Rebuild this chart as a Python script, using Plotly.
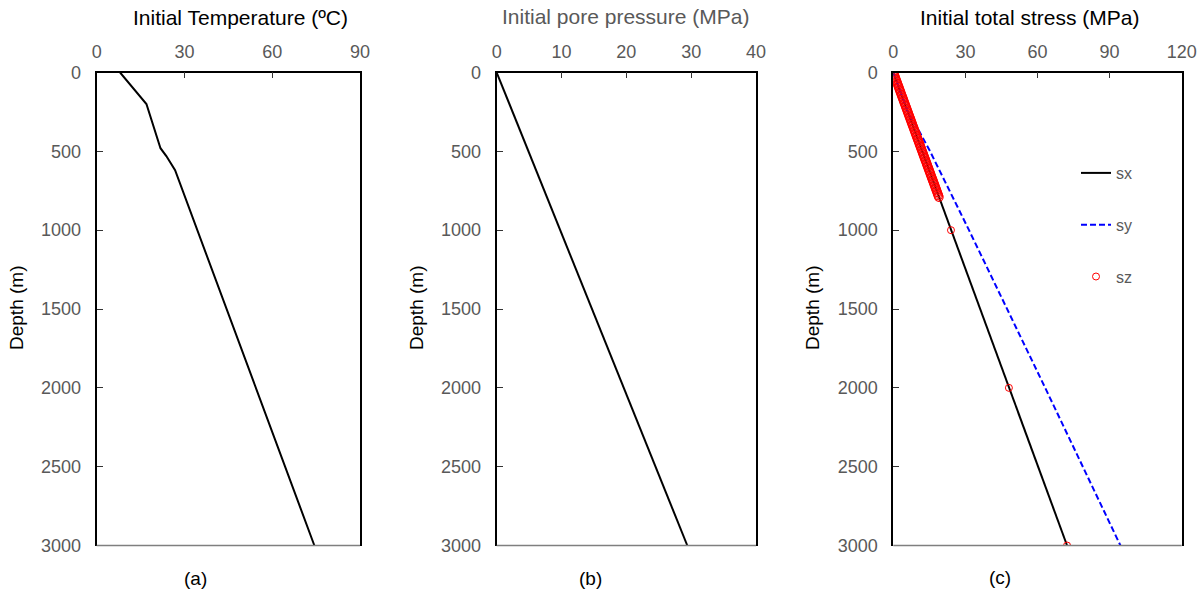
import plotly.graph_objects as go

# ---------------- data ----------------
temp_depth = [0, 200, 480, 530, 620, 3000]
temp_val = [8.0, 17.0, 21.8, 23.8, 26.8, 74.4]

pp_depth = [0, 3000]
pp_val = [0.0, 29.4]

sx_depth = [0, 3000]
sx_val = [0.0, 72.3]

sy_depth = [0, 250, 350, 500, 1000, 2000, 3000]
sy_val = [0.0, 6.0, 10.0, 15.3, 31.5, 63.2, 94.5]

# sz: densely sampled shallow part, and sparse deep points
sz_shallow_depth = [0, 10, 20, 30, 40, 50, 60, 70, 80, 90, 100, 110, 120, 130, 140, 150,
                    160, 170, 180, 190, 200, 210, 220, 230, 240, 250, 260, 270, 280, 290,
                    300, 310, 320, 330, 340, 350, 360, 370, 380, 390, 400, 410, 420, 430,
                    440, 450, 460, 470, 480, 490, 500, 510, 520, 530, 540, 550, 560, 570,
                    580, 590, 600, 610, 620, 630, 640, 650, 660, 670, 680, 690, 700, 710,
                    720, 730, 740, 750, 760, 770, 780, 790]
sz_shallow_val = [0.0, 0.24, 0.48, 0.72, 0.96, 1.2, 1.44, 1.68, 1.92, 2.16, 2.4, 2.64, 2.88,
                  3.12, 3.36, 3.6, 3.84, 4.08, 4.32, 4.56, 4.8, 5.04, 5.28, 5.52, 5.76, 6.0,
                  6.24, 6.48, 6.72, 6.96, 7.2, 7.44, 7.68, 7.92, 8.16, 8.4, 8.64, 8.88, 9.12,
                  9.36, 9.6, 9.84, 10.08, 10.32, 10.56, 10.8, 11.04, 11.28, 11.52, 11.76,
                  12.0, 12.24, 12.48, 12.72, 12.96, 13.2, 13.44, 13.68, 13.92, 14.16, 14.4,
                  14.64, 14.88, 15.12, 15.36, 15.6, 15.84, 16.08, 16.32, 16.56, 16.8, 17.04,
                  17.28, 17.52, 17.76, 18.0, 18.24, 18.48, 18.72, 18.96]
sz_deep_depth = [1000, 2000, 3000]
sz_deep_val = [24.0, 48.1, 72.3]

panel_titles = ["Initial Temperature (ºC)", "Initial pore pressure (MPa)", "Initial total stress (MPa)"]
panel_labels = ["(a)", "(b)", "(c)"]
x_ranges = [[0, 90], [0, 40], [0, 120]]
x_dticks = [30, 10, 30]
y_range = [3000, 0]

# ---------------- layout constants ----------------
W, H = 1197, 590
FONT = "Liberation Sans, Arial, sans-serif"
GRAY = "#595959"

def px(x):
    return x / W

def py(y):
    return 1 - y / H

x_domains = [[px(96.7), px(360.0)], [px(496.7), px(756.0)], [px(893.3), px(1181.7)]]
y_domain = [py(545.5), py(72.5)]

fig = go.Figure()

fig.add_trace(go.Scatter(x=temp_val, y=temp_depth, mode="lines",
                         line=dict(color="black", width=2), showlegend=False,
                         xaxis="x", yaxis="y"))
fig.add_trace(go.Scatter(x=pp_val, y=pp_depth, mode="lines",
                         line=dict(color="black", width=2), showlegend=False,
                         xaxis="x2", yaxis="y2"))
fig.add_trace(go.Scatter(x=sx_val, y=sx_depth, mode="lines", name="sx",
                         legendgroup="g1",
                         line=dict(color="black", width=2), xaxis="x3", yaxis="y3"))
fig.add_trace(go.Scatter(x=sy_val, y=sy_depth, mode="lines", name="sy",
                         legendgroup="g2",
                         line=dict(color="blue", width=2, dash="6px,3px"),
                         xaxis="x3", yaxis="y3"))
fig.add_trace(go.Scatter(x=sz_shallow_val, y=sz_shallow_depth, mode="markers", name="sz",
                         legendgroup="g3", showlegend=False,
                         marker=dict(symbol="circle-open", color="red", size=8.5,
                                     line=dict(color="red", width=1.2)),
                         xaxis="x3", yaxis="y3"))
fig.add_trace(go.Scatter(x=sz_deep_val, y=sz_deep_depth, mode="markers", name="sz",
                         legendgroup="g3",
                         marker=dict(symbol="circle-open", color="red", size=7,
                                     line=dict(color="red", width=1)),
                         xaxis="x3", yaxis="y3"))

layout = dict(
    width=W, height=H,
    margin=dict(l=0, r=0, t=0, b=0, autoexpand=False),
    paper_bgcolor="white", plot_bgcolor="white",
    font=dict(family=FONT, size=18, color=GRAY),
    showlegend=True,
    legend=dict(x=px(1076), y=py(156), xanchor="left", yanchor="top",
                font=dict(family=FONT, size=16, color=GRAY),
                tracegroupgap=28, bgcolor="rgba(0,0,0,0)"),
)

annotations = []
shapes = []
for i in range(3):
    sfx = "" if i == 0 else str(i + 1)
    layout["xaxis" + sfx] = dict(
        domain=x_domains[i], range=x_ranges[i], dtick=x_dticks[i], tick0=0,
        side="top", anchor="y" + sfx, showgrid=False, zeroline=False,
        showline=True, linecolor="black", linewidth=1.5, mirror=False,
        ticks="inside", ticklen=6, tickcolor="#333333", tickwidth=1,
        tickfont=dict(family=FONT, size=18, color=GRAY),
        ticklabelstandoff=6, automargin=False,
    )
    layout["yaxis" + sfx] = dict(
        domain=y_domain, range=y_range, dtick=500, tick0=0,
        anchor="x" + sfx, showgrid=False, zeroline=False,
        showline=True, linecolor="black", linewidth=2, mirror=True,
        ticks="inside", ticklen=6, tickcolor="#333333", tickwidth=1,
        tickfont=dict(family=FONT, size=18, color=GRAY),
        ticklabelstandoff=10, automargin=False,
    )
    shapes.append(dict(type="line", xref="x" + sfx + " domain", yref="y" + sfx + " domain",
                       x0=0, x1=1, y0=0, y1=0, line=dict(color="#7f7f7f", width=1.5)))

title_pos = [(240.7, 18), (625.5, 16), (1029, 18)]
title_col = ["black", GRAY, "black"]
for i, t in enumerate(panel_titles):
    annotations.append(dict(text=t, x=px(title_pos[i][0]), y=py(title_pos[i][1]),
                            xref="paper", yref="paper", showarrow=False,
                            xanchor="center", yanchor="middle",
                            font=dict(family=FONT, size=21, color=title_col[i])))

label_pos = [(195, 578), (590, 578), (1000, 577)]
for i, t in enumerate(panel_labels):
    annotations.append(dict(text=t, x=px(label_pos[i][0]), y=py(label_pos[i][1]),
                            xref="paper", yref="paper", showarrow=False,
                            xanchor="center", yanchor="middle",
                            font=dict(family=FONT, size=19, color="black")))

depth_x = [16, 416, 812]
for xx in depth_x:
    annotations.append(dict(text="Depth (m)", x=px(xx), y=py(308),
                            xref="paper", yref="paper", showarrow=False,
                            textangle=-90, xanchor="center", yanchor="middle",
                            font=dict(family=FONT, size=19, color="black")))

layout["annotations"] = annotations
layout["shapes"] = shapes
fig.update_layout(**layout)

fig.write_html("out.html")
